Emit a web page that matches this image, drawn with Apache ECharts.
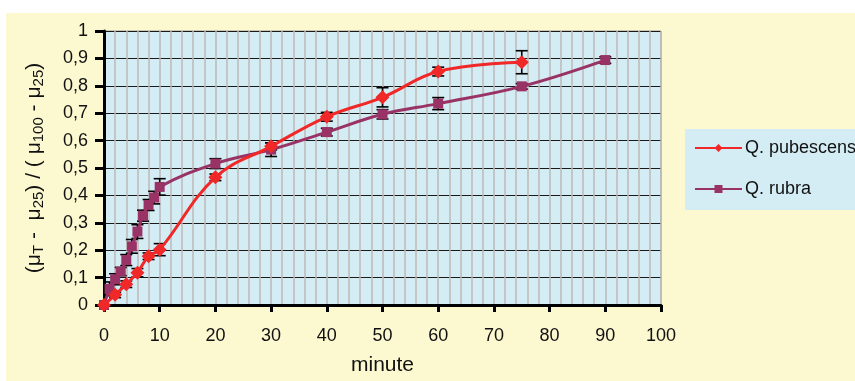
<!DOCTYPE html>
<html>
<head>
<meta charset="utf-8">
<script src="https://cdn.jsdelivr.net/npm/echarts@6/dist/echarts.min.js"></script>
<style>
html,body{margin:0;padding:0;background:#fff;}
#c{width:855px;height:381px;}
</style>
</head>
<body>
<div id="c"></div>
<script>
const minutesPub = [0, 2, 4, 6, 8, 10, 20, 30, 40, 50, 60, 75];
const pubescens = [0, 0.037, 0.076, 0.118, 0.178, 0.202, 0.466, 0.579, 0.687, 0.758, 0.852, 0.886];
const pubErr = [0, 0.01, 0.012, 0.015, 0.012, 0.022, 0.012, 0.013, 0.016, 0.035, 0.016, 0.042];
const minutesRub = [0, 1, 2, 3, 4, 5, 6, 7, 8, 9, 10, 20, 30, 40, 50, 60, 75, 90];
const rubra = [0, 0.059, 0.094, 0.122, 0.164, 0.214, 0.268, 0.326, 0.365, 0.392, 0.431, 0.516, 0.567, 0.631, 0.696, 0.735, 0.798, 0.894];
const rubErr = [0, 0.025, 0.02, 0.015, 0.02, 0.025, 0.025, 0.02, 0.02, 0.023, 0.03, 0.018, 0.025, 0.014, 0.017, 0.022, 0.01, 0.012];
const seriesNames = ['Q. pubescens', 'Q. rubra'];
const xTitle = 'minute';

const FONT = '"Liberation Sans", Arial, sans-serif';
const RED = '#f02828';
const PURPLE = '#993366';

function pairs(xs, ys) { return xs.map((x, i) => [x, ys[i]]); }
function errData(xs, ys, es) { return xs.map((x, i) => [x, ys[i] - es[i], ys[i] + es[i]]); }

function errRender(params, api) {
  const x = api.value(0);
  const lo = api.coord([x, api.value(1)]);
  const hi = api.coord([x, api.value(2)]);
  const hw = 6;
  const st = { stroke: '#000', lineWidth: 1.6 };
  return {
    type: 'group',
    children: [
      { type: 'line', shape: { x1: lo[0], y1: lo[1], x2: hi[0], y2: hi[1] }, style: st },
      { type: 'line', shape: { x1: lo[0] - hw, y1: lo[1], x2: lo[0] + hw, y2: lo[1] }, style: st },
      { type: 'line', shape: { x1: hi[0] - hw, y1: hi[1], x2: hi[0] + hw, y2: hi[1] }, style: st }
    ]
  };
}

const chart = echarts.init(document.getElementById('c'), null, { renderer: 'canvas' });
chart.setOption({
  animation: false,
  backgroundColor: '#ffffff',
  textStyle: { fontFamily: FONT },
  graphic: [
    { type: 'rect', left: 6, top: 13, shape: { width: 849, height: 368 }, style: { fill: '#fcf8d0' }, z: -10 }
  ],
  grid: {
    left: 104, right: 194, top: 31, bottom: 74,
    show: true, backgroundColor: '#d4ecf4', borderColor: '#9a9a9a', borderWidth: 1
  },
  legend: {
    data: seriesNames,
    orient: 'vertical',
    left: 685, top: 129,
    width: 170,
    padding: [10, 30, 12, 9],
    backgroundColor: '#d4ecf4',
    itemWidth: 47, itemHeight: 10,
    itemGap: 23,
    textStyle: { fontFamily: FONT, fontSize: 18, lineHeight: 18, color: '#111', padding: [0, 0, 0, -2] }
  },
  xAxis: {
    type: 'value', min: 0, max: 100, interval: 10,
    name: xTitle, nameLocation: 'middle', nameGap: 50,
    nameTextStyle: { fontFamily: FONT, fontSize: 21, color: '#111' },
    axisLine: { show: true, onZero: false, lineStyle: { color: '#000', width: 3 } },
    axisTick: { show: true, length: 7, lineStyle: { color: '#000', width: 3 } },
    axisLabel: { fontFamily: FONT, fontSize: 18, color: '#111', margin: 22 },
    splitLine: { show: true, lineStyle: { color: '#bdb8b8', width: 1.5 } },
    minorTick: { show: false, splitNumber: 5 },
    minorSplitLine: { show: true, lineStyle: { color: '#bdb8b8', width: 1.5 } }
  },
  yAxis: {
    type: 'value', min: 0, max: 1, interval: 0.1,
    name: '(μ{s|T} -  μ{s|25}) / ( μ{s|100} - μ{s|25})',
    nameLocation: 'middle', nameGap: 58, nameRotate: 90,
    nameTextStyle: {
      fontFamily: FONT, fontSize: 21, color: '#111', lineHeight: 24,
      rich: { s: { fontFamily: FONT, fontSize: 15, color: '#111', verticalAlign: 'bottom', lineHeight: 24 } }
    },
    axisLine: { show: true, lineStyle: { color: '#000', width: 3 } },
    axisTick: { show: true, length: 9, lineStyle: { color: '#000', width: 3 } },
    axisLabel: {
      fontFamily: FONT, fontSize: 18, color: '#111', margin: 16,
      formatter: v => String(Math.round(v * 10) / 10).replace('.', ',')
    },
    splitLine: { show: true, lineStyle: { color: '#1a1a1a', width: 1 } }
  },
  series: [
    {
      name: seriesNames[0], type: 'line', data: pairs(minutesPub, pubescens),
      smooth: 0.4, symbol: 'diamond', symbolSize: 14,
      lineStyle: { color: RED, width: 3 }, itemStyle: { color: RED }, z: 3
    },
    {
      name: seriesNames[1], type: 'line', data: pairs(minutesRub, rubra),
      smooth: 0.4, symbol: 'rect', symbolSize: 10,
      lineStyle: { color: PURPLE, width: 3 }, itemStyle: { color: PURPLE }, z: 2
    },
    {
      name: 'errRub', type: 'custom', data: errData(minutesRub, rubra, rubErr),
      renderItem: errRender, z: 1, silent: true
    },
    {
      name: 'errPub', type: 'custom', data: errData(minutesPub, pubescens, pubErr),
      renderItem: errRender, z: 1, silent: true
    }
  ]
});
</script>
</body>
</html>
